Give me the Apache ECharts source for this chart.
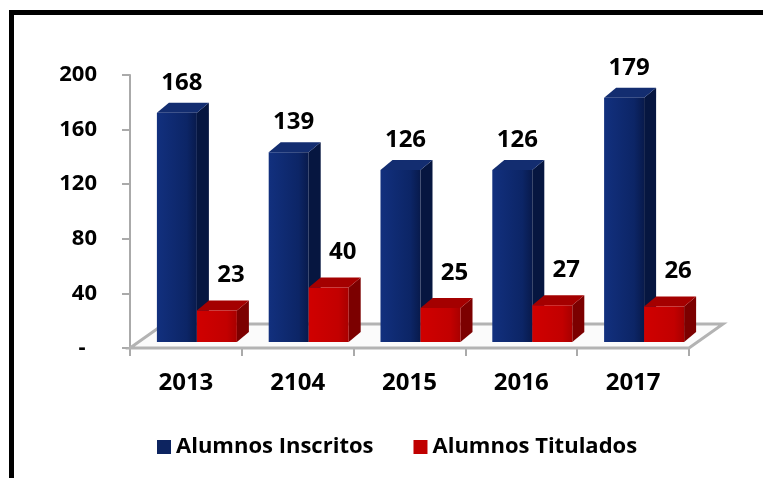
<!DOCTYPE html>
<html>
<head>
<meta charset="utf-8">
<script src="https://cdn.jsdelivr.net/npm/echarts@6/dist/echarts.min.js"></script>
<style>
  html, body { margin: 0; padding: 0; background: #fff; }
  #chart { width: 763px; height: 478px; }
</style>
</head>
<body>
<div id="chart"></div>
<script>
// datos del grafico
const years = ["2013", "2104", "2015", "2016", "2017"];
const inscritos = [168, 139, 126, 126, 179];
const titulados = [23, 40, 25, 27, 26];
const yMin = 0;
const yMax = 200;
const yStep = 40;

const FONT = "Open Sans";
const DEPTH_X = 12;
const DEPTH_Y = 10;
const LIFT = 6; // las barras estan un poco "dentro" del piso

// barra con aspecto 3D
function bar3d(colors, offset, labelDx, labelGap) {
  return function (params, api) {
    const cat = api.value(0);
    const v = api.value(1);
    const top = api.coord([cat, v]);
    const base = api.coord([cat, 0]);
    const x0 = top[0] + offset;
    const x1 = x0 + 40;
    const yT = top[1] - LIFT;
    const yB = base[1] - LIFT;
    return {
      type: "group",
      children: [
        {
          type: "polygon",
          shape: { points: [[x1, yT], [x1 + DEPTH_X, yT - DEPTH_Y], [x1 + DEPTH_X, yB - DEPTH_Y], [x1, yB]] },
          style: { fill: colors.side },
        },
        {
          type: "polygon",
          shape: { points: [[x0, yT], [x1, yT], [x1 + DEPTH_X, yT - DEPTH_Y], [x0 + DEPTH_X, yT - DEPTH_Y]] },
          style: { fill: colors.top },
        },
        {
          type: "rect",
          shape: { x: x0, y: yT, width: x1 - x0, height: yB - yT },
          style: {
            fill: new echarts.graphic.LinearGradient(0, 0, 1, 0, [
              { offset: 0, color: colors.front[0] },
              { offset: 0.75, color: colors.front[1] },
              { offset: 1, color: colors.front[2] },
            ]),
          },
        },
        {
          type: "text",
          style: {
            text: String(v),
            x: (x0 + x1) / 2 + labelDx,
            y: yT - labelGap,
            align: "center",
            verticalAlign: "middle",
            fontSize: 24,
            fontWeight: "bold",
            fontFamily: FONT,
            fill: "#000",
          },
        },
      ],
    };
  };
}

// piso gris
function floor(params) {
  const c = params.coordSys;
  const yF = c.y + c.height;
  const xL = c.x;
  const xR = c.x + c.width;
  return {
    type: "polygon",
    shape: { points: [[xL, yF], [xR, yF], [xR + 34, yF - 24], [xL + 34, yF - 24]] },
    style: { fill: "#fbfbfb", stroke: "#b3b3b3", lineWidth: 3 },
  };
}

const chart = echarts.init(document.getElementById("chart"));
chart.setOption({
  backgroundColor: "#fff",
  animation: false,
  graphic: [
    {
      type: "rect",
      shape: { x: 11.5, y: 12.5, width: 800, height: 520 },
      style: { fill: "none", stroke: "#000", lineWidth: 5 },
      z: 100,
    },
  ],
  legend: {
    left: 152,
    top: 431,
    itemWidth: 14,
    itemHeight: 14,
    itemGap: 40,
    icon: "rect",
    data: ["Alumnos Inscritos", "Alumnos Titulados"],
    textStyle: { fontSize: 22, fontWeight: "bold", fontFamily: FONT, color: "#000" },
  },
  grid: { left: 130, right: 74, top: 75, bottom: 130 },
  xAxis: {
    type: "category",
    data: years,
    axisLine: { show: false },
    axisTick: { show: true, length: 8, lineStyle: { color: "#aaa", width: 2 } },
    axisLabel: { margin: 23, fontSize: 24, fontWeight: "bold", fontFamily: FONT, color: "#000" },
  },
  yAxis: {
    type: "value",
    min: yMin,
    max: yMax,
    interval: yStep,
    splitLine: { show: false },
    axisLine: { show: true, lineStyle: { color: "#aaa", width: 2 } },
    axisTick: { show: true, length: 8, lineStyle: { color: "#aaa", width: 2 } },
    axisLabel: {
      margin: 33,
      fontSize: 22,
      fontWeight: "bold",
      fontFamily: FONT,
      color: "#000",
      formatter: (v) => (v === 0 ? "-  " : String(v)),
    },
  },
  series: [
    {
      type: "custom",
      silent: true,
      z: 1,
      renderItem: floor,
      data: [[0, 0]],
    },
    {
      name: "Alumnos Inscritos",
      type: "custom",
      z: 3,
      itemStyle: { color: "#0d2460" },
      renderItem: bar3d({ front: ["#12307e", "#0c2566", "#081a4c"], top: "#132d70", side: "#061640" }, -29, 5, 30),
      encode: { x: 0, y: 1 },
      data: inscritos.map((v, i) => [i, v]),
    },
    {
      name: "Alumnos Titulados",
      type: "custom",
      z: 4,
      itemStyle: { color: "#c00000" },
      renderItem: bar3d({ front: ["#d00000", "#c20000", "#a80000"], top: "#a40000", side: "#7c0000" }, 11, 14, 35),
      encode: { x: 0, y: 1 },
      data: titulados.map((v, i) => [i, v]),
    },
  ],
});
</script>
</body>
</html>
